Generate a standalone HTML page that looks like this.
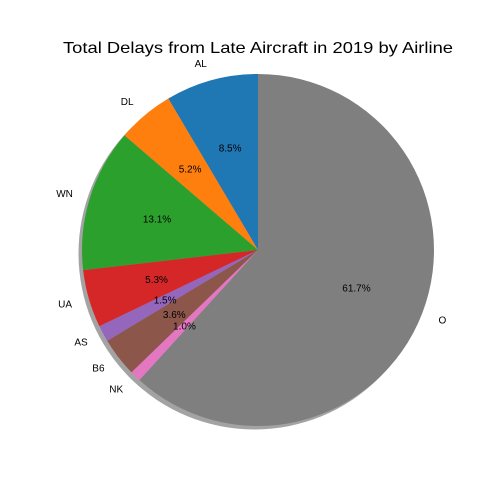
<!DOCTYPE html>
<html><head><meta charset="utf-8"><style>
html,body{margin:0;padding:0;background:#fff;}
svg{display:block;font-family:"Liberation Sans","DejaVu Sans",sans-serif;}
</style></head><body>
<svg id="chart" width="504" height="504" viewBox="0 0 504 504">
<rect width="504" height="504" fill="#fff"/>
<text x="258" y="53" font-size="16" text-anchor="middle" textLength="390" lengthAdjust="spacingAndGlyphs" fill="#000">Total Delays from Late Aircraft in 2019 by Airline</text>
<g id="shadow"></g>
<g id="slices"></g>
<g id="labels"></g>
</svg>
<script>
const categories = ["AL","DL","WN","UA","AS","B6","NK","O"];
const values = [8.5,5.2,13.1,5.3,1.5,3.6,1.0,61.7];
const pctLabels = ["8.5%","5.2%","13.1%","5.3%","1.5%","3.6%","1.0%","61.7%"];
const colors = ["#1f77b4","#ff7f0e","#2ca02c","#d62728","#9467bd","#8c564b","#e377c2","#7f7f7f"];
const cx=258, cy=250, R=176;
const NS="http://www.w3.org/2000/svg";
const total = values.reduce((a,b)=>a+b,0);
function pt(r,deg){const a=deg*Math.PI/180;return [cx+r*Math.cos(a), cy-r*Math.sin(a)];}
const sh=document.getElementById('shadow');
const c=document.createElementNS(NS,'circle');


c.setAttribute('cx',cx-3.5);c.setAttribute('cy',cy+3.5);c.setAttribute('r',R);
c.setAttribute('fill','#666');c.setAttribute('opacity','0.6');
sh.appendChild(c);
const sg=document.getElementById('slices'), lg=document.getElementById('labels');
let start=90;
values.forEach((v,i)=>{
  const sweep=v/total*360, end=start+sweep;
  const [x1,y1]=pt(R,start), [x2,y2]=pt(R,end);
  const p=document.createElementNS(NS,'path');
  
  
  p.setAttribute('d',`M${cx},${cy} L${x1},${y1} A${R},${R} 0 ${sweep>180?1:0} 0 ${x2},${y2} Z`);
  p.setAttribute('fill',colors[i]);
  sg.appendChild(p);
  const mid=start+sweep/2;
  const [lx,ly]=pt(R*1.1,mid);
  const t=document.createElementNS(NS,'text');
  
  
  t.setAttribute('x',lx);t.setAttribute('y',ly+3.5);
  t.setAttribute('font-size','10');
  t.setAttribute('text-anchor',Math.cos(mid*Math.PI/180)<0?'end':'start');
  t.textContent=categories[i];
  lg.appendChild(t);
  const [px,py]=pt(R*0.6,mid);
  const q=document.createElementNS(NS,'text');
  
  
  q.setAttribute('x',px);q.setAttribute('y',py+3.5);
  q.setAttribute('font-size','10');
  q.setAttribute('text-anchor','middle');
  q.textContent=pctLabels[i];
  lg.appendChild(q);
  start=end;
});
</script>
</body></html>
